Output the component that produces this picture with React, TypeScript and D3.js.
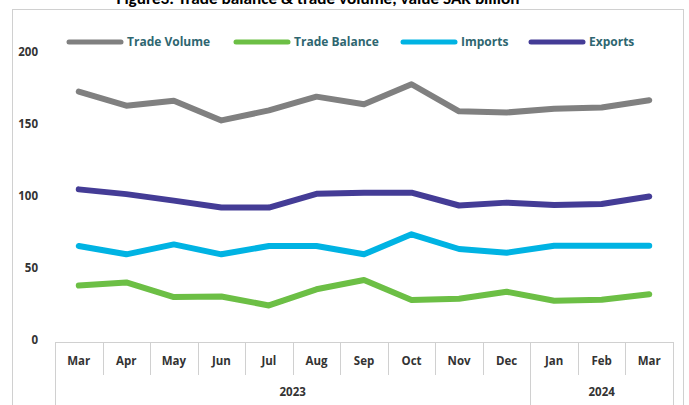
import * as d3 from 'd3';
import { useEffect, useRef } from 'react';

const months = ['Mar', 'Apr', 'May', 'Jun', 'Jul', 'Aug', 'Sep', 'Oct', 'Nov', 'Dec', 'Jan', 'Feb', 'Mar'];
const years = [
  { label: '2023', count: 10 },
  { label: '2024', count: 3 },
];
const tradeVolume = [172.5, 162.7, 166.2, 152.5, 159.5, 169, 163.7, 177.6, 158.8, 158, 160.6, 161.4, 166.5];
const tradeBalance = [37.8, 40, 29.8, 30.2, 24, 35.2, 41.7, 27.8, 28.6, 33.5, 27.3, 27.9, 31.8];
const imports = [65.3, 59.5, 66.4, 59.5, 65.3, 65.3, 59.5, 73.4, 63.2, 60.6, 65.5, 65.5, 65.5];
const exports_ = [104.6, 101.3, 96.8, 92, 92, 101.5, 102.3, 102.3, 93.4, 95.4, 93.8, 94.4, 99.6];
const yTicks = [0, 50, 100, 150, 200];

const series = [
  { name: 'Trade Volume', values: tradeVolume, color: '#808080' },
  { name: 'Trade Balance', values: tradeBalance, color: '#6CBF45' },
  { name: 'Imports', values: imports, color: '#00B3E3' },
  { name: 'Exports', values: exports_, color: '#443C96' },
];

export default function App() {
  const ref = useRef<SVGSVGElement | null>(null);

  useEffect(() => {
    const svg = d3.select(ref.current);
    const width = 689;
    const height = 405;
    svg.selectAll('*').remove();
    svg.attr('width', width).attr('height', height);

    const font = "'Open Sans', 'Noto Sans', sans-serif";
    const left = 55;
    const right = 673;
    const axisY = 342;

    // outer chart border
    svg.append('rect')
      .attr('x', 12.5).attr('y', 9.5)
      .attr('width', 671).attr('height', 420)
      .attr('fill', 'none').attr('stroke', '#d0d0d0');

    // title (cut at the top, as in the source)
    svg.append('text')
      .attr('x', 318).attr('y', 4)
      .attr('text-anchor', 'middle')
      .attr('font-family', "Carlito, 'Open Sans', sans-serif").attr('font-weight', 700).attr('font-size', 15)
      .attr('textLength', 403).attr('lengthAdjust', 'spacingAndGlyphs')
      .attr('fill', '#000')
      .text('Figure3: Trade balance & trade volume, value SAR billion');

    const x = d3.scaleBand<number>()
      .domain(d3.range(months.length))
      .range([left, right]);

    const y = d3.scaleLinear()
      .domain([0, 200])
      .range([340, 52]);

    // y tick labels
    svg.append('g')
      .selectAll('text')
      .data(yTicks)
      .join('text')
      .attr('x', 38).attr('y', d => y(d))
      .attr('dy', '0.35em')
      .attr('text-anchor', 'end')
      .attr('font-family', font).attr('font-weight', 700).attr('font-size', 11.5)
      .attr('fill', '#333')
      .text(d => d);

    // category axis boxes
    const grid = svg.append('g').attr('stroke', '#d0d0d0').attr('fill', 'none');
    grid.append('line')
      .attr('x1', left).attr('x2', right)
      .attr('y1', axisY + 0.5).attr('y2', axisY + 0.5);
    const bounds = d3.range(months.length + 1).map(i => (i < months.length ? x(i)! : right));
    let acc = 0;
    const yearEdges = new Set<number>([0]);
    years.forEach(yr => { acc += yr.count; yearEdges.add(acc); });
    bounds.forEach((bx, i) => {
      grid.append('line')
        .attr('x1', Math.round(bx) + 0.5).attr('x2', Math.round(bx) + 0.5)
        .attr('y1', axisY).attr('y2', yearEdges.has(i) ? height : 375);
    });

    svg.append('g')
      .selectAll('text')
      .data(months)
      .join('text')
      .attr('x', (_, i) => x(i)! + x.bandwidth() / 2)
      .attr('y', 361)
      .attr('dy', '0.35em')
      .attr('text-anchor', 'middle')
      .attr('font-family', font).attr('font-weight', 700).attr('font-size', 11.5)
      .attr('fill', '#333')
      .text(d => d);

    let start = 0;
    years.forEach(yr => {
      const x0 = x(start)!;
      const x1 = start + yr.count < months.length ? x(start + yr.count)! : right;
      svg.append('text')
        .attr('x', (x0 + x1) / 2).attr('y', 392)
        .attr('dy', '0.35em')
        .attr('text-anchor', 'middle')
        .attr('font-family', font).attr('font-weight', 700).attr('font-size', 11.5)
        .attr('fill', '#333')
        .text(yr.label);
      start += yr.count;
    });

    // lines
    const line = d3.line<number>()
      .x((_, i) => x(i)! + x.bandwidth() / 2)
      .y(d => y(d));

    series.forEach(s => {
      svg.append('path')
        .datum(s.values)
        .attr('fill', 'none')
        .attr('stroke', s.color)
        .attr('stroke-width', 6)
        .attr('stroke-linejoin', 'round')
        .attr('stroke-linecap', 'round')
        .attr('d', line);
    });

    // legend
    const legendX = [69, 236, 403, 531];
    const legend = svg.append('g');
    series.forEach((s, i) => {
      const g = legend.append('g').attr('transform', `translate(${legendX[i]},42)`);
      g.append('line')
        .attr('x1', 0).attr('x2', 52)
        .attr('stroke', s.color).attr('stroke-width', 5)
        .attr('stroke-linecap', 'round');
      g.append('text')
        .attr('x', 58).attr('dy', '0.35em')
        .attr('font-family', font).attr('font-weight', 700).attr('font-size', 12)
        .attr('fill', '#2E6670')
        .text(s.name);
    });
  }, []);

  return (
    <div style={{ position: 'fixed', left: 0, top: 0 }}>
      <svg ref={ref} style={{ display: 'block', background: '#fff' }}></svg>
    </div>
  );
}
